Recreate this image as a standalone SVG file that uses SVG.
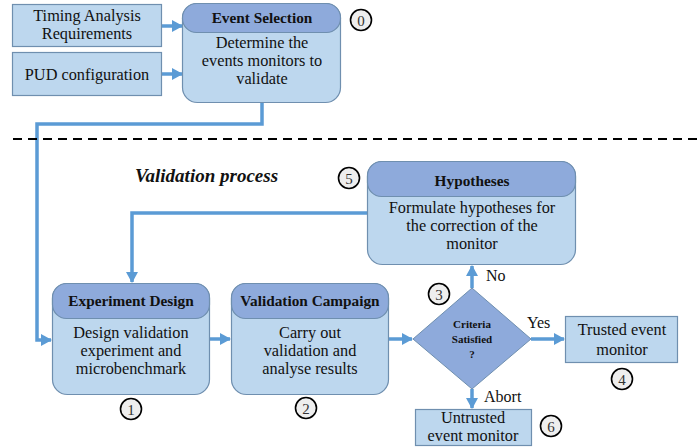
<svg xmlns="http://www.w3.org/2000/svg" width="697" height="447" viewBox="0 0 697 447">
<defs>
<marker id="arr" markerUnits="userSpaceOnUse" markerWidth="11" markerHeight="12" refX="10" refY="6" orient="auto">
<path d="M0,0 L11,6 L0,12 z" fill="#5B9BD5"/>
</marker>
<style>
text{font-family:'Liberation Serif','Times New Roman','DejaVu Serif',serif}
.box{fill:#BDD7EE;stroke:#6F8FAF;stroke-width:1.2}
.hdr{fill:#8EAADB;stroke:#6F8FAF;stroke-width:1.2}
.t{font-size:16.3px;fill:#111;text-anchor:middle}
.tb{font-size:15.3px;font-weight:bold;fill:#111;text-anchor:middle}
.c{fill:none;stroke:#5B9BD5;stroke-width:3.5}
.num circle{fill:#EEEEEE;stroke:#000;stroke-width:1.6}
.num text{font-size:15px;fill:#333;text-anchor:middle}
.lbl{font-size:16px;fill:#111}
.d{font-size:11px;font-weight:bold;text-anchor:middle;fill:#111}
</style>
</defs>
<rect width="697" height="447" fill="#fff"/>

<g id="connectors">
<line class="c" x1="162" y1="26" x2="182" y2="26" marker-end="url(#arr)"/>
<line class="c" x1="162" y1="74" x2="182" y2="74" marker-end="url(#arr)"/>
<polyline class="c" points="262,103 262,124 37,124 37,340 51,340" marker-end="url(#arr)"/>
<polyline class="c" points="367,213 132,213 132,282" marker-end="url(#arr)"/>
<line class="c" x1="209" y1="339" x2="230" y2="339" marker-end="url(#arr)"/>
<line class="c" x1="389" y1="339" x2="412" y2="339" marker-end="url(#arr)"/>
<line class="c" x1="472" y1="288" x2="472" y2="266" marker-end="url(#arr)"/>
<line class="c" x1="531" y1="339" x2="564" y2="339" marker-end="url(#arr)"/>
<line class="c" x1="472" y1="389" x2="472" y2="408" marker-end="url(#arr)"/>
<text class="lbl" x="486" y="281">No</text>
<text class="lbl" x="527" y="328">Yes</text>
<text class="lbl" x="484" y="402">Abort</text>
</g>

<line x1="13" y1="139" x2="697" y2="139" stroke="#000" stroke-width="2" stroke-dasharray="9,6"/>
<text x="135" y="182" font-size="19" font-style="italic" font-weight="bold" fill="#111">Validation process</text>

<g id="timing">
<rect class="box" x="12.5" y="4.5" width="149" height="42"/>
<text class="t" x="87" y="21">Timing Analysis</text>
<text class="t" x="87" y="39">Requirements</text>
</g>
<g id="pud">
<rect class="box" x="12.5" y="52.5" width="149" height="43"/>
<text class="t" x="87" y="80">PUD configuration</text>
</g>

<g id="event-selection">
<rect class="box" x="182.5" y="3.5" width="158" height="99" rx="15"/>
<rect class="hdr" x="182.5" y="3.5" width="158" height="29" rx="14"/>
<text class="tb" x="262" y="23">Event Selection</text>
<text class="t" x="262" y="48">Determine the</text>
<text class="t" x="262" y="66">events monitors to</text>
<text class="t" x="262" y="84">validate</text>
</g>

<g id="hypotheses">
<rect class="box" x="367.5" y="161.5" width="208" height="103" rx="15"/>
<rect class="hdr" x="367.5" y="161.5" width="208" height="35" rx="14"/>
<text class="tb" x="472" y="186">Hypotheses</text>
<text class="t" x="472" y="213">Formulate hypotheses for</text>
<text class="t" x="472" y="231">the correction of the</text>
<text class="t" x="472" y="249">monitor</text>
</g>

<g id="experiment-design">
<rect class="box" x="52.5" y="283.5" width="157" height="111" rx="15"/>
<rect class="hdr" x="52.5" y="283.5" width="157" height="35" rx="14"/>
<text class="tb" x="131" y="306">Experiment Design</text>
<text class="t" x="131" y="338">Design validation</text>
<text class="t" x="131" y="356">experiment and</text>
<text class="t" x="131" y="374">microbenchmark</text>
</g>

<g id="validation-campaign">
<rect class="box" x="231.5" y="283.5" width="157" height="111" rx="15"/>
<rect class="hdr" x="231.5" y="283.5" width="157" height="35" rx="14"/>
<text class="tb" x="310" y="306">Validation Campaign</text>
<text class="t" x="310" y="338">Carry out</text>
<text class="t" x="310" y="356">validation and</text>
<text class="t" x="310" y="374">analyse results</text>
</g>

<g id="criteria">
<polygon points="472,288 531,339 472,389 413,339" fill="#8EAADB" stroke="#6F8FAF" stroke-width="1"/>
<text class="d" x="472" y="328">Criteria</text>
<text class="d" x="472" y="343">Satisfied</text>
<text class="d" x="472" y="358">?</text>
</g>

<g id="trusted">
<rect class="box" x="565.5" y="316.5" width="112" height="46"/>
<text class="t" x="622" y="335">Trusted event</text>
<text class="t" x="622" y="355">monitor</text>
</g>

<g id="untrusted">
<rect class="box" x="415.5" y="409.5" width="116" height="36"/>
<text class="t" x="473" y="423">Untrusted</text>
<text class="t" x="473" y="441">event monitor</text>
</g>

<g class="num" id="n0"><circle cx="361" cy="20" r="10.5"/><text x="361" y="25.5">0</text></g>
<g class="num" id="n5"><circle cx="349" cy="178" r="10.5"/><text x="349" y="183.5">5</text></g>
<g class="num" id="n1"><circle cx="131" cy="409" r="10.5"/><text x="131" y="414.5">1</text></g>
<g class="num" id="n2"><circle cx="306" cy="408" r="10.5"/><text x="306" y="413.5">2</text></g>
<g class="num" id="n3"><circle cx="439" cy="294" r="10.5"/><text x="439" y="299.5">3</text></g>
<g class="num" id="n4"><circle cx="622" cy="379" r="10.5"/><text x="622" y="384.5">4</text></g>
<g class="num" id="n6"><circle cx="551" cy="426" r="10.5"/><text x="551" y="431.5">6</text></g>
</svg>
